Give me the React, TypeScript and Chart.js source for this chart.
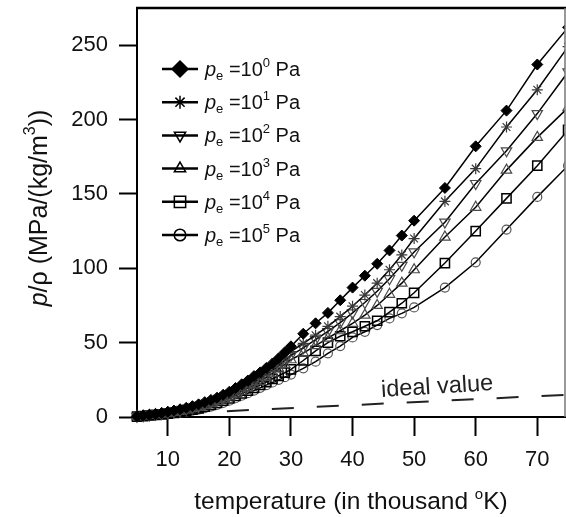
import React, { useEffect, useRef } from "react";
import { Chart, registerables } from "chart.js";

Chart.register(...registerables);

// ---- data ----
const temperatures = [
  5, 6, 7, 8, 9, 10, 11, 12, 13, 14, 15, 16, 17, 18, 19, 20, 21, 22, 23, 24, 25, 26, 27, 28, 29, 30,
  32, 34, 36, 38, 40, 42, 44, 46, 48, 50,
  55, 60, 65, 70, 75,
];
const pe0 = [
  0.5, 1, 1.5, 2, 2.7, 3.5, 4.3, 5.2, 6.2, 7.3, 8.5, 10, 11.5, 13, 15, 17, 19.5, 22, 24.5, 27.5, 30, 33, 36, 39.5, 43.5, 47.5,
  56, 63, 70, 78.5, 87, 95, 103, 112, 122, 132,
  154, 182, 206, 237, 262,
];
const pe1 = [
  0.4, 0.9, 1.4, 1.9, 2.5, 3.2, 4, 4.9, 5.8, 6.8, 7.8, 9.2, 10.6, 12.2, 14, 15.8, 18, 20.3, 22.8, 25.3, 28, 30.8, 33.6, 36.8, 40.3, 44,
  49.5, 55, 61, 67.5, 74.5, 82, 90, 99, 109, 120,
  145, 167, 195, 220, 249,
];
const pe2 = [
  0.4, 0.8, 1.3, 1.8, 2.3, 2.9, 3.6, 4.4, 5.3, 6.2, 7.2, 8.4, 9.8, 11.3, 12.9, 14.5, 16.5, 18.6, 20.8, 23.3, 26, 28.7, 31.5, 34.6, 38, 41.5,
  46.5, 52, 57.5, 63.5, 70, 77, 84.5, 93, 102, 111,
  131, 157, 179, 204, 232,
];
const pe3 = [
  0.3, 0.7, 1.1, 1.6, 2.1, 2.6, 3.2, 3.9, 4.7, 5.6, 6.5, 7.7, 9, 10.4, 12, 13.5, 15.3, 17.3, 19.4, 21.6, 24, 26.6, 29.4, 32.4, 35.4, 38.5,
  43, 48, 53, 58, 63, 68.5, 75, 82.5, 90, 99,
  121, 141, 166, 188, 208,
];
const pe4 = [
  0.3, 0.6, 1, 1.4, 1.8, 2.3, 2.8, 3.4, 4.1, 4.9, 5.8, 6.9, 8.2, 9.5, 11, 12.5, 14.2, 15.9, 17.7, 19.6, 21.5, 23.5, 25.6, 27.7, 29.8, 32,
  38, 44.5, 50, 54.3, 57.3, 61, 64.7, 70.5, 76.5, 83.5,
  103.5, 125, 147, 169, 193,
];
const pe5 = [
  0.2, 0.5, 0.8, 1.1, 1.5, 2, 2.5, 3, 3.6, 4.3, 5, 6, 7, 8.2, 9.5, 11, 12.6, 14.3, 16, 17.8, 19.6, 21.4, 23.2, 25, 26.8, 28.5,
  32.7, 37.2, 42.8, 47.7, 53.5, 57.3, 61.8, 66.3, 69.7, 73.7,
  87, 104, 126, 148, 169,
];
const idealTemps = [5, 75];
const idealValues = [1, 15];
const xTickValues = [10, 20, 30, 40, 50, 60, 70];
const yTickValues = [0, 50, 100, 150, 200, 250];
const legendExponents = ["0", "1", "2", "3", "4", "5"];

const FONT = '"Liberation Sans", Arial, Helvetica, sans-serif';

type Kind = "diamond" | "star" | "triDown" | "triUp" | "square" | "circle";

const seriesStyles: {
  data: number[];
  kind: Kind;
  pointStyle: string;
  rotation: number;
  radius: number;
  fill: string;
  stroke: string;
  bw: number;
}[] = [
  { data: pe0, kind: "diamond", pointStyle: "rectRot", rotation: 0, radius: 5.5, fill: "#000", stroke: "#000", bw: 1 },
  { data: pe1, kind: "star", pointStyle: "star", rotation: 0, radius: 5.5, fill: "rgba(0,0,0,0)", stroke: "#3a3a3a", bw: 1.2 },
  { data: pe2, kind: "triDown", pointStyle: "triangle", rotation: 180, radius: 6, fill: "rgba(0,0,0,0)", stroke: "#4a4a4a", bw: 1.2 },
  { data: pe3, kind: "triUp", pointStyle: "triangle", rotation: 0, radius: 6, fill: "rgba(0,0,0,0)", stroke: "#4a4a4a", bw: 1.2 },
  { data: pe4, kind: "square", pointStyle: "rect", rotation: 0, radius: 6.5, fill: "rgba(0,0,0,0)", stroke: "#000", bw: 1.5 },
  { data: pe5, kind: "circle", pointStyle: "circle", rotation: 0, radius: 4.5, fill: "rgba(0,0,0,0)", stroke: "#555", bw: 1.2 },
];

function drawMarker(ctx: CanvasRenderingContext2D, kind: Kind, x: number, y: number, r: number, filled: boolean) {
  ctx.save();
  ctx.strokeStyle = "#000";
  ctx.fillStyle = "#000";
  ctx.lineWidth = 1.5;
  ctx.beginPath();
  if (kind === "diamond") {
    ctx.moveTo(x, y - r);
    ctx.lineTo(x + r, y);
    ctx.lineTo(x, y + r);
    ctx.lineTo(x - r, y);
    ctx.closePath();
    if (filled) ctx.fill();
    ctx.stroke();
  } else if (kind === "star") {
    for (let k = 0; k < 4; k++) {
      const a = (k * Math.PI) / 4;
      ctx.moveTo(x - Math.sin(a) * r, y - Math.cos(a) * r);
      ctx.lineTo(x + Math.sin(a) * r, y + Math.cos(a) * r);
    }
    ctx.stroke();
  } else if (kind === "triUp" || kind === "triDown") {
    const base = kind === "triUp" ? 0 : Math.PI;
    for (let k = 0; k < 3; k++) {
      const a = base + (k * 2 * Math.PI) / 3;
      const px = x + Math.sin(a) * r;
      const py = y - Math.cos(a) * r;
      if (k === 0) ctx.moveTo(px, py);
      else ctx.lineTo(px, py);
    }
    ctx.closePath();
    ctx.stroke();
  } else if (kind === "square") {
    const s = r * Math.SQRT1_2;
    ctx.rect(x - s, y - s, 2 * s, 2 * s);
    ctx.stroke();
  } else {
    ctx.arc(x, y, r, 0, Math.PI * 2);
    ctx.stroke();
  }
  ctx.restore();
}

function drawPieces(
  ctx: CanvasRenderingContext2D,
  pieces: { t: string; font: string; dy: number }[],
  x: number,
  y: number,
  align: "left" | "center"
) {
  let total = 0;
  const widths = pieces.map((p) => {
    ctx.font = p.font;
    const w = ctx.measureText(p.t).width;
    total += w;
    return w;
  });
  let cx = align === "center" ? x - total / 2 : x;
  pieces.forEach((p, i) => {
    ctx.font = p.font;
    ctx.fillText(p.t, cx, y + p.dy);
    cx += widths[i];
  });
}

const overlayPlugin = {
  id: "overlay",
  afterDraw(chart: any) {
    const { ctx, chartArea } = chart;
    const xs = chart.scales.x;
    const ys = chart.scales.y;
    ctx.save();
    // frame: top and right
    ctx.strokeStyle = "#000";
    ctx.lineWidth = 2.5;
    ctx.beginPath();
    ctx.moveTo(chartArea.left - 1, chartArea.top);
    ctx.lineTo(chartArea.right + 1, chartArea.top);
    ctx.stroke();
    ctx.strokeStyle = "#777";
    ctx.lineWidth = 1.5;
    ctx.beginPath();
    ctx.moveTo(chartArea.right, chartArea.top);
    ctx.lineTo(chartArea.right, chartArea.bottom);
    ctx.stroke();

    ctx.fillStyle = "#111";
    ctx.textBaseline = "alphabetic";
    ctx.textAlign = "left";

    // legend
    const rowY0 = 69;
    const rowStep = 33.2;
    seriesStyles.forEach((s, i) => {
      const y = rowY0 + i * rowStep;
      ctx.strokeStyle = "#000";
      ctx.lineWidth = 2.5;
      ctx.beginPath();
      ctx.moveTo(162, y);
      ctx.lineTo(198, y);
      ctx.stroke();
      const lr = s.kind === "diamond" ? 8 : s.kind === "square" ? 8 : s.kind === "circle" ? 5.8 : 6.5;
      drawMarker(ctx, s.kind, 180, y, lr, s.kind === "diamond");
      ctx.fillStyle = "#111";
      drawPieces(
        ctx,
        [
          { t: "p", font: `italic 20px ${FONT}`, dy: 0 },
          { t: "e", font: `13px ${FONT}`, dy: 4 },
          { t: " =10", font: `20px ${FONT}`, dy: 0 },
          { t: legendExponents[i], font: `13px ${FONT}`, dy: -9 },
          { t: " Pa", font: `20px ${FONT}`, dy: 0 },
        ],
        205,
        y + 7,
        "left"
      );
    });

    // ideal value label
    const ix = xs.getPixelForValue(53.8);
    const iy = ys.getPixelForValue(15.8);
    ctx.save();
    ctx.translate(ix, iy);
    ctx.rotate((-3.5 * Math.PI) / 180);
    ctx.font = `23.5px ${FONT}`;
    ctx.textAlign = "center";
    ctx.fillStyle = "#222";
    ctx.fillText("ideal value", 0, 0);
    ctx.restore();

    // x title
    ctx.fillStyle = "#111";
    drawPieces(
      ctx,
      [
        { t: "temperature (in thousand ", font: `24.5px ${FONT}`, dy: 0 },
        { t: "o", font: `15px ${FONT}`, dy: -10 },
        { t: "K)", font: `24.5px ${FONT}`, dy: 0 },
      ],
      (chartArea.left + chartArea.right) / 2,
      509,
      "center"
    );

    // y title
    ctx.save();
    ctx.translate(47, 208);
    ctx.rotate(-Math.PI / 2);
    drawPieces(
      ctx,
      [
        { t: "p", font: `italic 25px ${FONT}`, dy: 0 },
        { t: "/\u03C1 (MPa/(kg/m", font: `25px ${FONT}`, dy: 0 },
        { t: "3", font: `16px ${FONT}`, dy: -12 },
        { t: "))", font: `25px ${FONT}`, dy: 0 },
      ],
      0,
      0,
      "center"
    );
    ctx.restore();

    ctx.restore();
  },
};

function zeroPadding(s: any) {
  s.paddingLeft = 0;
  s.paddingRight = 0;
  s.paddingTop = 0;
  s.paddingBottom = 0;
}

export default function App() {
  const canvasRef = useRef<HTMLCanvasElement | null>(null);

  useEffect(() => {
    document.body.style.margin = "0";
    const canvas = canvasRef.current;
    if (!canvas) return;

    const datasets: any[] = seriesStyles.map((s, i) => ({
      label: `pe=10^${legendExponents[i]} Pa`,
      data: temperatures.map((t, k) => ({ x: t, y: s.data[k] })),
      borderColor: "#000",
      borderWidth: 1.5,
      tension: 0,
      fill: false,
      pointStyle: s.pointStyle,
      pointRotation: s.rotation,
      pointRadius: s.radius,
      pointBackgroundColor: s.fill,
      pointBorderColor: s.stroke,
      pointBorderWidth: s.bw,
      clip: { left: 10, right: 0, top: 0, bottom: 10 },
    }));
    datasets.push({
      label: "ideal value",
      data: idealTemps.map((t, k) => ({ x: t, y: idealValues[k] })),
      borderColor: "#222",
      borderWidth: 2,
      borderDash: [22, 23],
      pointRadius: 0,
      fill: false,
      tension: 0,
    });

    const chart = new Chart(canvas, {
      type: "line",
      data: { datasets },
      options: {
        responsive: false,
        devicePixelRatio: 1,
        animation: false,
        layout: { autoPadding: false, padding: { top: 8, right: 1, left: 0, bottom: 0 } },
        plugins: { legend: { display: false }, tooltip: { enabled: false } },
        scales: {
          x: {
            type: "linear",
            min: 5,
            max: 74.5,
            afterBuildTicks: (s: any) => {
              s.ticks = xTickValues.map((v) => ({ value: v }));
            },
            afterFit: (s: any) => {
              s.height = 100;
              zeroPadding(s);
            },
            grid: { display: true, drawOnChartArea: false, drawTicks: true, tickLength: 19, tickWidth: 2, tickColor: "#000" },
            border: { display: true, color: "#000", width: 2 },
            ticks: { font: { family: FONT, size: 22 }, color: "#111", padding: 11, maxRotation: 0 },
          },
          y: {
            type: "linear",
            min: 0,
            max: 275,
            afterBuildTicks: (s: any) => {
              s.ticks = yTickValues.map((v) => ({ value: v }));
            },
            afterFit: (s: any) => {
              s.width = 137;
              zeroPadding(s);
            },
            grid: { display: true, drawOnChartArea: false, drawTicks: true, tickLength: 18, tickWidth: 2, tickColor: "#000" },
            border: { display: true, color: "#000", width: 2 },
            ticks: { font: { family: FONT, size: 22 }, color: "#111", padding: 11 },
          },
        },
      },
      plugins: [overlayPlugin],
    });

    return () => chart.destroy();
  }, []);

  return (
    <div style={{ width: 566, height: 517 }}>
      <canvas ref={canvasRef} width={566} height={517} style={{ display: "block" }} />
    </div>
  );
}
